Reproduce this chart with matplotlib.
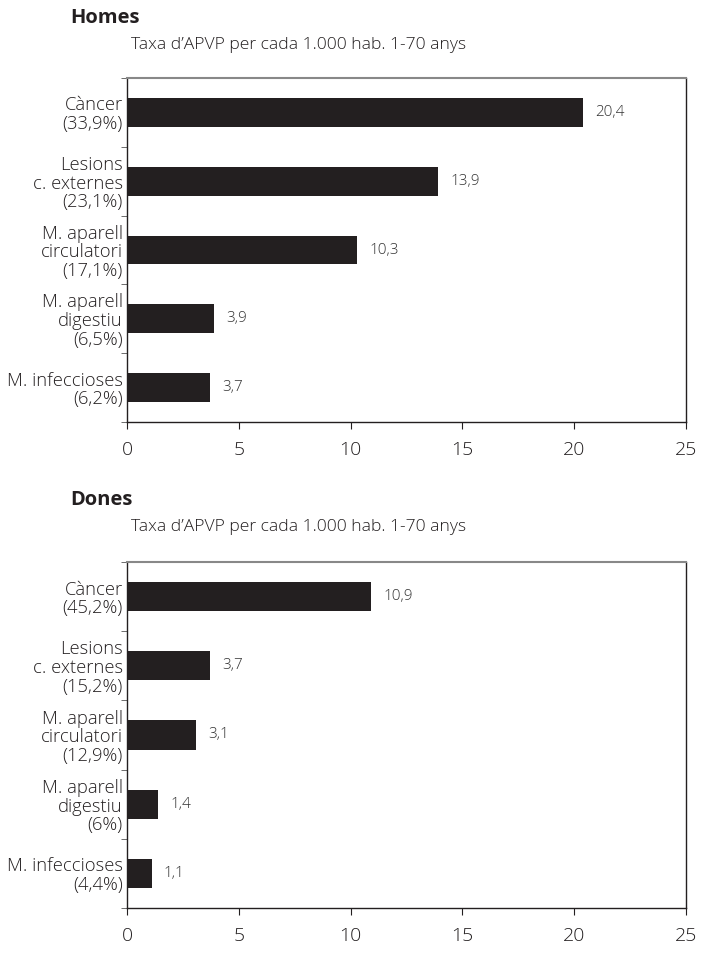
import matplotlib.pyplot as plt
import numpy as np

plt.rcParams['font.family'] = ['Open Sans', 'DejaVu Sans']

cats_homes = ["Càncer\n(33,9%)", "Lesions\nc. externes\n(23,1%)", "M. aparell\ncirculatori\n(17,1%)",
              "M. aparell\ndigestiu\n(6,5%)", "M. infeccioses\n(6,2%)"]
vals_homes = [20.4, 13.9, 10.3, 3.9, 3.7]

cats_dones = ["Càncer\n(45,2%)", "Lesions\nc. externes\n(15,2%)", "M. aparell\ncirculatori\n(12,9%)",
              "M. aparell\ndigestiu\n(6%)", "M. infeccioses\n(4,4%)"]
vals_dones = [10.9, 3.7, 3.1, 1.4, 1.1]

subtitol = "Taxa d\u2019APVP per cada 1.000 hab. 1-70 anys"
barcol = "#231f20"
txtcol = "#231f20"

fig = plt.figure(figsize=(7.07, 9.56), dpi=100)


def panell(ax, cats, vals, titol, ytit):
    y = np.arange(len(cats))
    ax.barh(y, vals, height=0.42, color=barcol)
    ax.set_ylim(len(cats) - 0.5, -0.5)
    ax.set_xlim(0, 25)
    ax.set_xticks([0, 5, 10, 15, 20, 25])
    ax.set_xticklabels(["0", "5", "10", "15", "20", "25"], fontsize=14, color=txtcol,
                       fontweight='light')
    # category labels, ticks sit at the boundaries
    ax.set_yticks(y)
    ax.set_yticklabels(cats, fontsize=13.2, color=txtcol, linespacing=1.05,
                       fontweight='light')
    ax.tick_params(axis='y', length=0, pad=3)
    ax.set_yticks(np.arange(-0.5, len(cats), 1), minor=True)
    ax.tick_params(axis='y', which='minor', length=4, direction='out', color='#555555')
    ax.tick_params(axis='x', length=5, direction='out', pad=9, color=txtcol)
    for s in ['left', 'bottom', 'right']:
        ax.spines[s].set_color(txtcol)
        ax.spines[s].set_linewidth(1.0)
    ax.spines['top'].set_color('#888888')
    ax.spines['top'].set_linewidth(1.5)
    for yi, v in zip(y, vals):
        ax.text(v + 0.55, yi, f"{v:.1f}".replace('.', ','), va='center', ha='left',
                fontsize=11, color='#333333', fontweight='light')
    fig.text(70 / 707, 1 - ytit / 956, titol, fontsize=14.5, fontweight='bold',
             color=txtcol, va='center')
    fig.text(131 / 707, 1 - (ytit + 27) / 956, subtitol, fontsize=12.6,
             color=txtcol, va='center', fontweight='light')


ax1 = fig.add_axes([127 / 707, 1 - 422 / 956, 559 / 707, 344 / 956])
panell(ax1, cats_homes, vals_homes, "Homes", 18)

ax2 = fig.add_axes([127 / 707, 1 - 908 / 956, 559 / 707, 346 / 956])
panell(ax2, cats_dones, vals_dones, "Dones", 500)

fig.savefig("out.png", dpi=100)
